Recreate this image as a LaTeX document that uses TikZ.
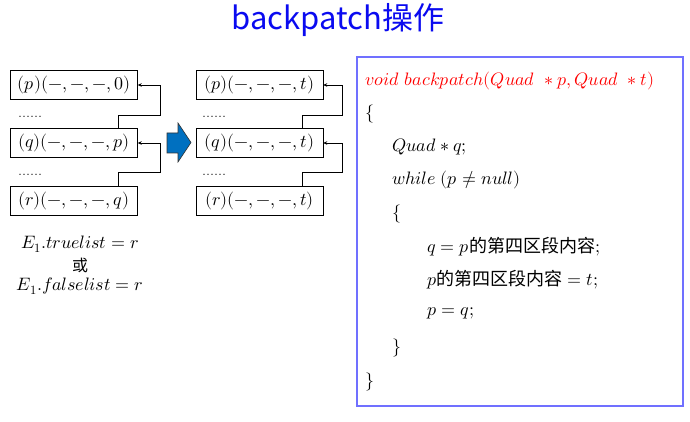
\documentclass[tikz,border=0pt]{standalone}
\usepackage{fontspec}
\usepackage{unicode-math}
\setmathfont{Latin Modern Math}
\newfontfamily\cjk{Noto Sans CJK SC}
\usetikzlibrary{arrows.meta,positioning,calc}
\definecolor{bpblue}{HTML}{0A0AF0}
\definecolor{bpframe}{HTML}{7070FF}
\definecolor{bpfill}{HTML}{0070C0}
\definecolor{bpred}{HTML}{FF0000}
\newcommand{\boxfont}{\fontsize{18}{21}\selectfont}
\newcommand{\codefont}{\fontsize{18}{21}\selectfont}

\begin{document}
\begin{tikzpicture}[x=1pt,y=-1pt,
      quad/.style={draw, minimum width=127pt, minimum height=29pt, inner sep=0pt, font=\boxfont},
      dots/.style={font=\fontsize{16}{18}\selectfont, inner sep=0pt},
      link/.style={-{Stealth[length=4pt,width=3.5pt]}, line width=0.6pt},
      codeline/.style={anchor=west, inner sep=0pt, font=\codefont}]
    \useasboundingbox (0,0) rectangle (690,422);
    % title
    \node[font=\cjk\fontsize{31}{34}\selectfont, text=bpblue] (title) at (338,20) {backpatch操作};
    % before
    \node[quad] (lp) at (74,85)    {$(p)(-,-,-,0)$};
    \node[quad] (lq) at (74,143)   {$(q)(-,-,-,p)$};
    \node[quad] (lr) at (74,200.5) {$(r)(-,-,-,q)$};
    \node[dots] (ld1) at (30,117) {......};
    \node[dots] (ld2) at (30,175) {......};
    \draw[link] ([xshift=-19pt]lq.north east) -- ++(0,-13) -| ([xshift=23pt]lp.east) -- (lp.east);
    \draw[link] ([xshift=-19pt]lr.north east) -- ++(0,-13) -| ([xshift=23pt]lq.east) -- (lq.east);
    % after
    \node[quad] (rp) at (259.5,85)    {$(p)(-,-,-,t)$};
    \node[quad] (rq) at (259.5,143)   {$(q)(-,-,-,t)$};
    \node[quad] (rr) at (259.5,200.5) {$(r)(-,-,-,t)$};
    \node[dots] (rd1) at (214,117) {......};
    \node[dots] (rd2) at (214,175) {......};
    \draw[link] ([xshift=-21pt]rq.north east) -- ++(0,-13) -| ([xshift=19pt]rp.east) -- (rp.east);
    \draw[link] ([xshift=-21pt]rr.north east) -- ++(0,-13) -| ([xshift=19pt]rq.east) -- (rq.east);
    % big arrow
    \draw[fill=bpfill, draw=black!80, line width=0.6pt]
      (167,133) -- (178,133) -- (178,123) -- (191,142.5) -- (178,162) -- (178,153) -- (167,153) -- cycle;
    % lists
    \node[font=\boxfont, inner sep=0pt] (tl) at (80,244) {$E_1.truelist=r$};
    \node[font=\cjk\fontsize{16}{18}\selectfont, inner sep=0pt] (or) at (80,265) {或};
    \node[font=\boxfont, inner sep=0pt] (fl) at (80,286) {$E_1.falselist=r$};
    % code
    \node[draw=bpframe, line width=1.2pt, minimum width=326pt, minimum height=349pt] (code) at (520,231.5) {};
    \node[codeline, text=bpred] (c1) at (365,81)  {$void\ backpatch(Quad\ *p, Quad\ *t)$};
    \node[codeline] (c2)  at (365,114) {$\{$};
    \node[codeline] (c3)  at (392,147) {$Quad*q;$};
    \node[codeline] (c4)  at (392,180) {$while\ (p\neq null)$};
    \node[codeline] (c5)  at (392,214) {$\{$};
    \node[codeline] (c6)  at (427,247) {$q=p$\cjk 的第四区段内容$;$};
    \node[codeline] (c7)  at (427,280) {$p$\cjk 的第四区段内容\rmfamily$\;=t;$};
    \node[codeline] (c8)  at (427,313) {$p=q;$};
    \node[codeline] (c9)  at (392,348) {$\}$};
    \node[codeline] (c10) at (365,382) {$\}$};
  \end{tikzpicture}
\end{document}
